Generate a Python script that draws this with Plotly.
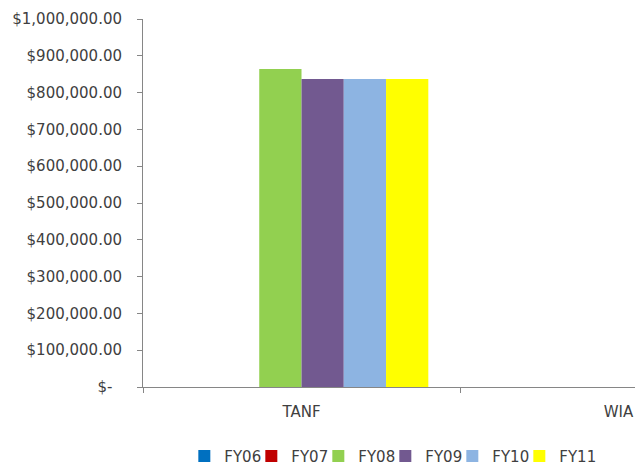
import plotly.graph_objects as go

categories = ["TANF", "WIA"]
series_names = ["FY06", "FY07", "FY08", "FY09", "FY10", "FY11"]
fy06 = [0, 0]
fy07 = [0, 0]
fy08 = [864000, 0]
fy09 = [837000, 0]
fy10 = [837000, 0]
fy11 = [837000, 0]
series_values = [fy06, fy07, fy08, fy09, fy10, fy11]
colors = ["#0070C0", "#C00000", "#92D050", "#725990", "#8DB4E2", "#FFFF00"]

y_tickvals = [0, 100000, 200000, 300000, 400000, 500000, 600000, 700000, 800000, 900000, 1000000]
y_ticktext = ["$-\u00a0\u00a0", "$100,000.00", "$200,000.00", "$300,000.00", "$400,000.00",
              "$500,000.00", "$600,000.00", "$700,000.00", "$800,000.00", "$900,000.00",
              "$1,000,000.00"]

FONT = "DejaVu Sans, Verdana, sans-serif"
TXT = "#404040"
AX = "#868686"

fig = go.Figure()
for i, (name, vals, col) in enumerate(zip(series_names, series_values, colors)):
    lw = 45 if i == len(series_names) - 1 else 22
    fig.add_trace(go.Bar(x=categories, y=vals, name=name, legendwidth=lw,
                         marker=dict(color=col, line=dict(width=0))))

fig.update_layout(
    width=635, height=469,
    margin=dict(l=143, r=0, t=19, b=82, autoexpand=False),
    paper_bgcolor="white", plot_bgcolor="white",
    barmode="group", bargap=0.2, bargroupgap=0,
    font=dict(family=FONT, size=15, color=TXT),
    showlegend=True,
    legend=dict(orientation="h", x=0.084, xanchor="left", y=-0.188, yanchor="middle",
                font=dict(family=FONT, size=15, color=TXT), itemwidth=30,
                entrywidthmode="pixels",
                traceorder="normal"),
)
fig.update_xaxes(
    type="category", range=[-0.5, 1.052], showline=True, linecolor=AX, linewidth=1,
    ticks="outside", tickson="boundaries", ticklen=5, tickcolor=AX,
    showgrid=False, zeroline=False, ticklabelstandoff=11, automargin=False,
)
fig.update_yaxes(
    range=[0, 1000000], tickvals=y_tickvals, ticktext=y_ticktext,
    showline=True, linecolor=AX, linewidth=1, ticks="outside", ticklen=5, tickcolor=AX,
    showgrid=False, zeroline=False, ticklabelstandoff=12, automargin=False,
)
fig.write_html(
    "out.html",
    config={"displayModeBar": False},
    post_script="document.body.style.margin='0';document.body.style.overflow='hidden';",
)
